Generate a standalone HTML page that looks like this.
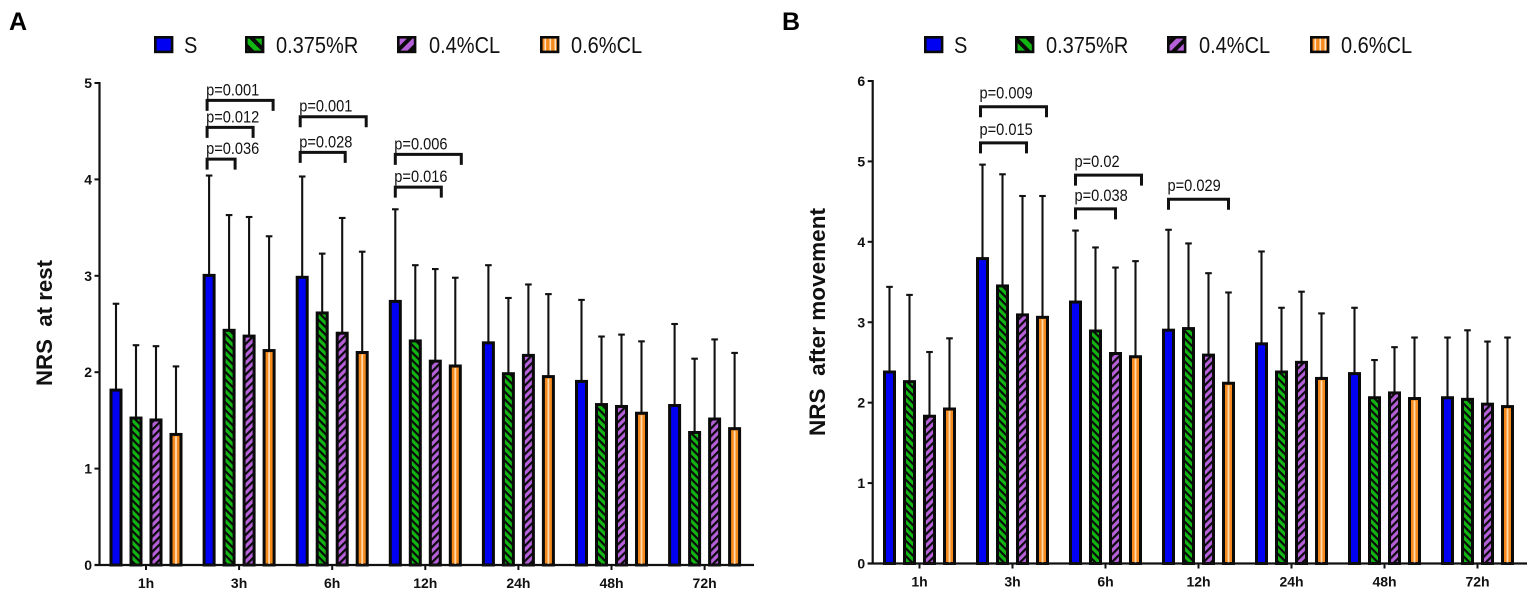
<!DOCTYPE html>
<html lang="en">
<head>
<meta charset="utf-8">
<title>NRS at rest and after movement</title>
<style>
html,body{margin:0;padding:0;background:#fff;width:1535px;height:594px;overflow:hidden}
svg{display:block;font-family:"Liberation Sans",sans-serif}
</style>
</head>
<body>
<svg id="figure" xmlns="http://www.w3.org/2000/svg" width="1535" height="594" viewBox="0 0 1535 594">
<defs>
<pattern id="hatch-green" patternUnits="userSpaceOnUse" width="5.4" height="5.4" patternTransform="rotate(45)">
<rect width="5.4" height="5.4" fill="#12b512"/><rect y="0" width="5.4" height="2.2" fill="#0a0a0a"/>
</pattern>
<pattern id="hatch-purple" patternUnits="userSpaceOnUse" width="5.4" height="5.4" patternTransform="rotate(-45)">
<rect width="5.4" height="5.4" fill="#b55fd9"/><rect y="0" width="5.4" height="2.2" fill="#0a0a0a"/>
</pattern>
<pattern id="legend-green" patternUnits="userSpaceOnUse" width="9" height="9" patternTransform="rotate(45)">
<rect width="9" height="9" fill="#12b512"/><rect width="9" height="4" fill="#0a0a0a"/>
</pattern>
<pattern id="legend-purple" patternUnits="userSpaceOnUse" width="9" height="9" patternTransform="rotate(-45)">
<rect width="9" height="9" fill="#b55fd9"/><rect width="9" height="4" fill="#0a0a0a"/>
</pattern>
<pattern id="legend-orange" patternUnits="userSpaceOnUse" width="5" height="9" x="1.5">
<rect width="5" height="9" fill="#f58a1c"/><rect x="3" width="1.6" height="9" fill="#ffe3c0"/>
</pattern>
</defs>
<text x="9" y="30" font-size="25" font-weight="bold" fill="#000">A</text>
<text x="782" y="30" font-size="25" font-weight="bold" fill="#000">B</text>
<g id="panel-a"></g>
<g id="panel-b"></g>
</svg>
<script>
var categories = ['1h','3h','6h','12h','24h','48h','72h'];
var seriesNames = ['S','0.375%R','0.4%CL','0.6%CL'];

var restTicks = [0,1,2,3,4,5];
var restS    = [1.83,3.02,3.00,2.75,2.32,1.92,1.67];
var restR    = [1.54,2.45,2.63,2.34,2.00,1.68,1.39];
var restCL4  = [1.52,2.39,2.42,2.13,2.19,1.66,1.53];
var restCL6  = [1.37,2.24,2.22,2.08,1.97,1.59,1.43];
var restSUpper   = [2.71,4.04,4.03,3.69,3.11,2.75,2.50];
var restRUpper   = [2.28,3.63,3.23,3.11,2.77,2.37,2.14];
var restCL4Upper = [2.27,3.61,3.60,3.07,2.91,2.39,2.34];
var restCL6Upper = [2.06,3.41,3.25,2.98,2.81,2.32,2.20];
var restPLabels = ['p=0.001','p=0.012','p=0.036','p=0.001','p=0.028','p=0.006','p=0.016'];
var restPGroups = [1,1,1,2,2,3,3];
var restPStarts = [-0.1,-0.1,-0.1,-0.1,-0.1,0,0];
var restPEnds = [3.2,2.2,1.3,3.2,2.15,3.3,2.3];
var restPHeights = [4.82,4.54,4.21,4.65,4.28,4.26,3.92];

var moveTicks = [0,1,2,3,4,5,6];
var moveS    = [2.40,3.81,3.27,2.92,2.75,2.38,2.08];
var moveR    = [2.28,3.47,2.91,2.94,2.40,2.08,2.06];
var moveCL4  = [1.85,3.11,2.63,2.61,2.52,2.14,2.00];
var moveCL6  = [1.94,3.08,2.59,2.26,2.32,2.07,1.97];
var moveSUpper   = [3.44,4.96,4.14,4.15,3.88,3.18,2.81];
var moveRUpper   = [3.34,4.84,3.93,3.98,3.18,2.53,2.90];
var moveCL4Upper = [2.63,4.57,3.68,3.61,3.38,2.69,2.76];
var moveCL6Upper = [2.80,4.57,3.76,3.37,3.11,2.81,2.81];
var movePLabels = ['p=0.009','p=0.015','p=0.02','p=0.038','p=0.029'];
var movePGroups = [1,1,2,2,3];
var movePStarts = [-0.1,-0.1,0,0,0];
var movePEnds = [3.2,2.2,3.3,2.0,3.0];
var movePHeights = [5.68,5.23,4.83,4.41,4.53];

var NS = 'http://www.w3.org/2000/svg';
var barFills = ['#0000f2','url(#hatch-green)','url(#hatch-purple)','#f58a1c'];
var legendFills = ['#0000f2','url(#legend-green)','url(#legend-purple)','url(#legend-orange)'];
var seriesKeys = ['s','r','cl4','cl6'];

function make(parent, tag, attrs, text) {
  var node = document.createElementNS(NS, tag);
  for (var k in attrs) node.setAttribute(k, attrs[k]);
  if (text !== undefined) node.textContent = text;
  parent.appendChild(node);
  return node;
}

function drawPanel(root, layout, ticks, means, uppers, pLabels, pGroups, pStarts, pEnds, pHeights, yTitle) {
  var yMax = ticks[ticks.length - 1];
  function yScale(v) { return layout.y0 - (v / yMax) * (layout.y0 - layout.yTop); }
  function groupX(g) { return layout.x0 + g * layout.step; }
  function barX(g, s) { return groupX(g) + (s - 1.5) * 20; }

  // legend
  var legendSwatchX = [154,245,397,540];
  var legendTextX = [184,276,429,571];
  seriesNames.forEach(function (name, s) {
    var sw = make(root, 'rect', {x: legendSwatchX[s] + layout.legendDx + 1.3, y: 37.3, width: 16.8, height: 14.6, fill: legendFills[s], stroke: '#0a0a0a', 'stroke-width': 2.6});
    
    
    var lt = make(root, 'text', {transform: 'translate(' + (legendTextX[s] + layout.legendDx) + ',53) scale(0.87,1)', 'font-size': 23, fill: '#111'}, name);
    
    
  });

  // bars and error bars
  categories.forEach(function (cat, g) {
    for (var s = 0; s < 4; s++) {
      var cx = barX(g, s);
      var top = yScale(means[s][g]) + 1.5;
      var upper = yScale(uppers[s][g]);
      var stem = make(root, 'line', {x1: cx, x2: cx, y1: top, y2: upper, stroke: '#111', 'stroke-width': 2.1});
      
      
      var cap = make(root, 'line', {x1: cx - 3.3, x2: cx + 3.3, y1: upper, y2: upper, stroke: '#111', 'stroke-width': 2.1});
      
      
      var bar = make(root, 'rect', {x: cx - 5, y: top, width: 10, height: layout.y0 - top, fill: barFills[s], stroke: '#0a0a0a', 'stroke-width': 3});
      
      
      if (s === 3) {
        var shine = make(root, 'rect', {x: cx - 0.9, y: top + 2, width: 1.8, height: layout.y0 - top - 3, fill: '#ffd9ac'});
        
        
      }
    }
  });

  // axes
  var yAxis = make(root, 'line', {x1: layout.axisX, x2: layout.axisX, y1: layout.yTop - 1, y2: layout.y0 + 1, stroke: '#111', 'stroke-width': 2.2});
  
  
  var xAxis = make(root, 'line', {x1: layout.axisX - 5, x2: layout.xEnd, y1: layout.y0, y2: layout.y0, stroke: '#111', 'stroke-width': 2.2});
  
  

  ticks.forEach(function (t) {
    var ty = yScale(t);
    var tm = make(root, 'line', {x1: layout.axisX - 5, x2: layout.axisX, y1: ty, y2: ty, stroke: '#111', 'stroke-width': 2});
    
    
    var tl = make(root, 'text', {x: layout.axisX - 7.5, y: ty + 5, 'font-size': 14, 'font-weight': 'bold', 'text-anchor': 'end', fill: '#111'}, t);
    
    
  });

  categories.forEach(function (cat, g) {
    var tx = groupX(g);
    var tm = make(root, 'line', {x1: tx, x2: tx, y1: layout.y0, y2: layout.y0 + 5, stroke: '#111', 'stroke-width': 2});
    
    
    var tl = make(root, 'text', {x: tx, y: layout.y0 + 23, 'font-size': 14, 'font-weight': 'bold', 'text-anchor': 'middle', fill: '#111'}, cat);
    
    
  });

  // y-axis title
  var title = make(root, 'text', {
    transform: 'translate(' + layout.titleX + ',' + layout.titleY + ') rotate(-90)',
    'font-size': 22, 'font-weight': 'bold', 'text-anchor': 'middle', fill: '#111',
    textLength: layout.titleLength, lengthAdjust: 'spacingAndGlyphs',
    style: 'white-space:pre'
  }, yTitle);
  
  

  // significance brackets
  pLabels.forEach(function (label, i) {
    var g = pGroups[i];
    var y = yScale(pHeights[i]);
    var x1 = barX(g, pStarts[i]);
    var x2 = barX(g, pEnds[i]);
    var br = make(root, 'path', {d: 'M' + x1 + ' ' + (y + 10.5) + 'V' + y + 'H' + x2 + 'V' + (y + 10.5), fill: 'none', stroke: '#111', 'stroke-width': 3});
    
    
    var pt = make(root, 'text', {transform: 'translate(' + (x1 - 1) + ',' + (y - layout.pGap) + ') scale(0.87,1)', 'font-size': 16.8, fill: '#111'}, label);
    
    
  });
}

drawPanel(document.getElementById('panel-a'),
  {x0: 146, step: 93.1, y0: 565, yTop: 83, axisX: 99.5, xEnd: 754, legendDx: 0, titleX: 52, titleY: 323, titleLength: 126, pGap: 5},
  restTicks,
  [restS, restR, restCL4, restCL6],
  [restSUpper, restRUpper, restCL4Upper, restCL6Upper],
  restPLabels, restPGroups, restPStarts, restPEnds, restPHeights,
  'NRS  at rest');

drawPanel(document.getElementById('panel-b'),
  {x0: 919.5, step: 93, y0: 563.5, yTop: 81, axisX: 872.7, xEnd: 1527, legendDx: 770, titleX: 825, titleY: 322, titleLength: 228, pGap: 8},
  moveTicks,
  [moveS, moveR, moveCL4, moveCL6],
  [moveSUpper, moveRUpper, moveCL4Upper, moveCL6Upper],
  movePLabels, movePGroups, movePStarts, movePEnds, movePHeights,
  'NRS  after movement');
</script>
</body>
</html>
